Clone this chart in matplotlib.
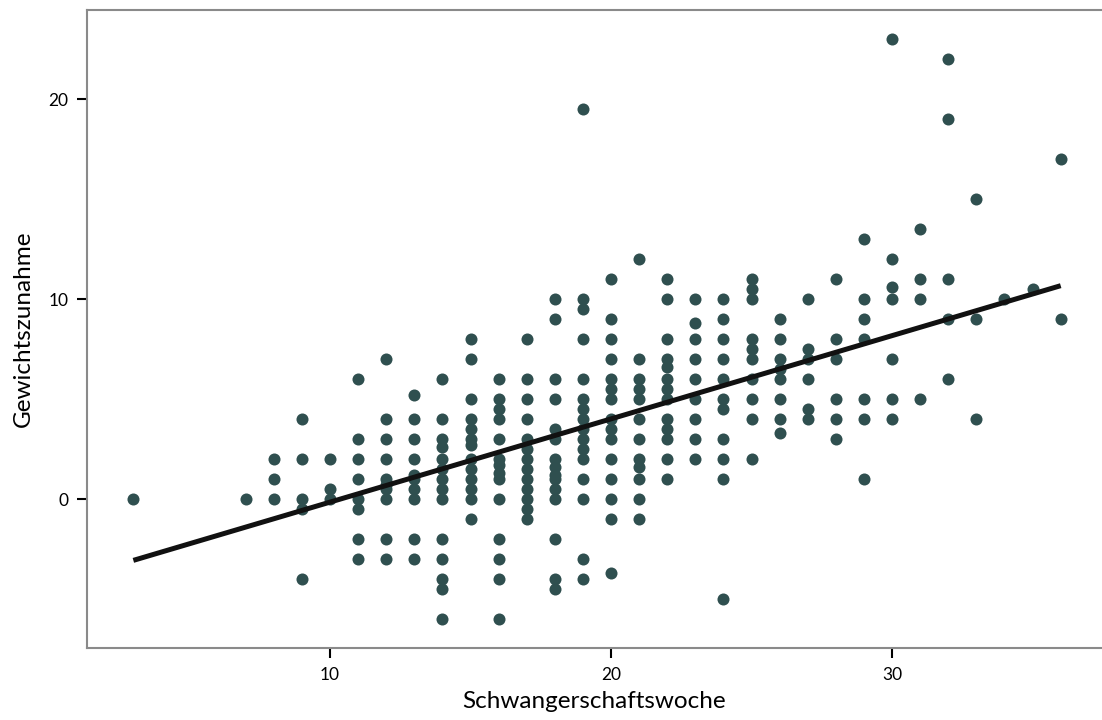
import matplotlib
matplotlib.use("Agg")
import matplotlib.pyplot as plt
import numpy as np

# Data
weeks = [3, 7, 8, 9, 10, 11, 12, 13, 14, 15, 16, 17, 18, 19, 20, 21, 22, 23, 24,
         25, 26, 27, 28, 29, 30, 31, 32, 33, 34, 35, 36]
gains = [
    [0],
    [0],
    [2, 1, 0],
    [4, 2, 0, -0.5, -4],
    [2, 0.5, 0],
    [6, 3, 2, 1, 0, -0.5, -2, -3],
    [7, 4, 3, 2, 1, 0.7, 0.5, 0, -2, -3],
    [5.2, 4, 3, 2, 1.2, 1, 0.5, 0, -2, -3],
    [6, 4, 3, 2.6, 2, 1.5, 1, 0.5, 0, -2, -3, -4, -4.5, -6],
    [8, 7, 5, 4, 3.5, 3, 2.7, 2, 1.5, 1, 0.5, 0, -1],
    [6, 5, 4.5, 4, 3, 2, 1.7, 1.3, 1, 0, -2, -3, -4, -6],
    [8, 6, 5, 4, 3, 2.5, 2, 1.5, 1, 0.5, 0, -0.5, -1],
    [10, 9, 6, 5, 3.5, 3, 2, 1.6, 1.2, 1, 0.5, 0, -2, -4, -4.5],
    [19.5, 10, 9.5, 8, 6, 5, 4.5, 4, 3.5, 3, 2.5, 2, 1, 0, -3, -4],
    [11, 9, 8, 7, 6, 5.5, 5, 4, 3.5, 3, 2, 1, 0, -1, -3.7],
    [12, 7, 6, 5.5, 5, 4, 3, 2, 1.6, 1, 0, -1],
    [11, 10, 8, 7, 6.6, 6, 5.5, 5, 4, 3.5, 3, 2, 1],
    [10, 8.8, 8, 7, 6, 5, 4, 3, 2],
    [10, 9, 8, 7, 6, 5, 4.5, 3, 2, 1, -5],
    [11, 10.5, 10, 8, 7.5, 7, 6, 5, 4, 2],
    [9, 8, 7, 6.5, 6, 5, 4, 3.3],
    [10, 7.5, 7, 6, 4.5, 4],
    [11, 8, 7, 5, 4, 3],
    [13, 10, 9, 8, 5, 4, 1],
    [23, 12, 10.6, 10, 7, 5, 4],
    [13.5, 11, 10, 5],
    [22, 19, 11, 9, 6],
    [15, 9, 4],
    [10],
    [10.5],
    [17, 9],
]
fit_x = [3, 36]
fit_y = [-3.05, 10.68]
x_ticks = [10, 20, 30]
y_ticks = [0, 10, 20]
x_label = "Schwangerschaftswoche"
y_label = "Gewichtszunahme"

xs = np.concatenate([[w] * len(g) for w, g in zip(weeks, gains)])
ys = np.concatenate([np.asarray(g, dtype=float) for g in gains])

plt.rcParams['font.family'] = ['Lato', 'DejaVu Sans']

fig = plt.figure(figsize=(11.02, 7.2), dpi=100)
ax = fig.add_axes([87 / 1102, 72 / 720, 1 - 87 / 1102, 638 / 720])

ax.scatter(xs, ys, s=75, color='#2F4F4F', linewidths=0, zorder=2)
ax.plot(fit_x, fit_y, color='#111111', linewidth=3.6, solid_capstyle='butt', zorder=3)

ax.set_xlim(1.35, 37.47)
ax.set_ylim(-7.43, 24.46)
ax.set_xticks(x_ticks)
ax.set_yticks(y_ticks)

for side in ['left', 'bottom', 'top']:
    ax.spines[side].set_color('#8a8a8a')
    ax.spines[side].set_linewidth(1.5)
ax.spines['right'].set_visible(False)

ax.tick_params(axis='both', direction='out', length=7, width=1.5, color='black',
               labelsize=12.5, pad=6.5, labelcolor='black')

ax.set_xlabel(x_label, fontsize=17.5, labelpad=6)
ax.set_ylabel(y_label, fontsize=17.5, labelpad=10)

fig.savefig("out.png", dpi=100)
